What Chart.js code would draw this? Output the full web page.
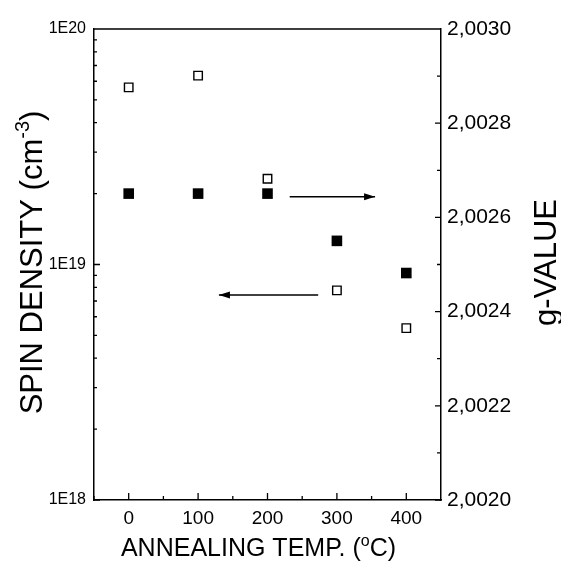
<!DOCTYPE html>
<html>
<head>
<meta charset="utf-8">
<script src="https://cdn.jsdelivr.net/npm/chart.js@4/dist/chart.umd.min.js"></script>
<style>
  html, body { margin: 0; padding: 0; background: #fff; }
  #wrap { width: 561px; height: 565px; }
</style>
</head>
<body>
<div id="wrap"><canvas id="chart"></canvas></div>
<script>
// annealing temperature (°C)
const temps = [0, 100, 200, 300, 400];
// spin density, cm^-3 (filled squares, left axis)
const spinDensity = [2.0e19, 2.0e19, 2.0e19, 1.26e19, 9.2e18];
// g-value (open squares, right axis)
const gValue = [2.002876, 2.002901, 2.002682, 2.002445, 2.002365];

const xTicks = [0, 100, 200, 300, 400];
const xMinor = [-50, 50, 150, 250, 350];
const leftTicks = [1e18, 1e19, 1e20];
const rightTicks = [2.0020, 2.0022, 2.0024, 2.0026, 2.0028, 2.0030];
const rightMinor = [2.0021, 2.0023, 2.0025, 2.0027, 2.0029];

// arrows: [x start, x end] at a spin-density level
const arrowToRight = { x: [232, 355], y: 1.94e19 };
const arrowToLeft = { x: [273, 130], y: 7.42e18 };

const FONT = "'Liberation Sans', Arial, sans-serif";

let leftMinor = [];
[1e18, 1e19].forEach((dec) => {
  for (let m = 2; m <= 9; m++) leftMinor.push(m * dec);
});

const tickPlugin = {
  id: "insideTicks",
  afterDraw(chart) {
    const { ctx, chartArea: a, scales } = chart;
    ctx.save();
    ctx.strokeStyle = "#000";
    ctx.lineWidth = 1.3;
    ctx.beginPath();
    // top frame line
    ctx.moveTo(a.left, a.top);
    ctx.lineTo(a.right, a.top);
    xTicks.forEach((v) => {
      let px = scales.x.getPixelForValue(v);
      ctx.moveTo(px, a.bottom);
      ctx.lineTo(px, a.bottom - 7);
    });
    xMinor.forEach((v) => {
      let px = scales.x.getPixelForValue(v);
      ctx.moveTo(px, a.bottom);
      ctx.lineTo(px, a.bottom - 4);
    });
    leftTicks.forEach((v) => {
      let py = scales.y.getPixelForValue(v);
      ctx.moveTo(a.left, py);
      ctx.lineTo(a.left + 6, py);
    });
    leftMinor.forEach((v) => {
      let py = scales.y.getPixelForValue(v);
      ctx.moveTo(a.left, py);
      ctx.lineTo(a.left + 3, py);
    });
    rightTicks.forEach((v) => {
      let py = scales.y1.getPixelForValue(v);
      ctx.moveTo(a.right, py);
      ctx.lineTo(a.right - 6, py);
    });
    rightMinor.forEach((v) => {
      let py = scales.y1.getPixelForValue(v);
      ctx.moveTo(a.right, py);
      ctx.lineTo(a.right - 4, py);
    });
    ctx.stroke();

    // arrowheads
    [arrowToRight, arrowToLeft].forEach((arr) => {
      let x0 = scales.x.getPixelForValue(arr.x[0]);
      let x1 = scales.x.getPixelForValue(arr.x[1]);
      let py = scales.y.getPixelForValue(arr.y);
      let dir = Math.sign(x1 - x0);
      ctx.fillStyle = "#000";
      ctx.beginPath();
      ctx.moveTo(x1, py);
      ctx.lineTo(x1 - dir * 11, py - 3.5);
      ctx.lineTo(x1 - dir * 11, py + 3.5);
      ctx.closePath();
      ctx.fill();
    });

    // axis titles
    ctx.fillStyle = "#000";
    ctx.textBaseline = "alphabetic";
    const midY = (a.top + a.bottom) / 2;

    // left title, rotated
    ctx.save();
    ctx.translate(42, midY - 2);
    ctx.rotate(-Math.PI / 2);
    let big = "31px " + FONT;
    let small = "20px " + FONT;
    ctx.font = big;
    let p1 = "SPIN DENSITY (cm";
    let w1 = ctx.measureText(p1).width;
    let w3 = ctx.measureText(")").width;
    ctx.font = small;
    let w2 = ctx.measureText("-3").width;
    let total = w1 + w2 + w3;
    let sx = -total / 2;
    ctx.font = big;
    ctx.textAlign = "left";
    ctx.fillText(p1, sx, 0);
    ctx.font = small;
    ctx.fillText("-3", sx + w1, -13);
    ctx.font = big;
    ctx.fillText(")", sx + w1 + w2, 0);
    ctx.restore();

    // right title, rotated
    ctx.save();
    ctx.translate(556, midY - 2);
    ctx.rotate(-Math.PI / 2);
    ctx.font = "31px " + FONT;
    ctx.textAlign = "center";
    ctx.fillText("g-VALUE", 0, 0);
    ctx.restore();

    // bottom title
    ctx.save();
    let bBig = "25px " + FONT;
    let bSmall = "16px " + FONT;
    ctx.font = bBig;
    let b1 = "ANNEALING TEMP. (";
    let bw1 = ctx.measureText(b1).width;
    let bw3 = ctx.measureText("C)").width;
    ctx.font = bSmall;
    let bw2 = ctx.measureText("o").width;
    let bx = (a.left + a.right) / 2 - 9 - (bw1 + bw2 + bw3) / 2;
    let by = 556;
    ctx.textAlign = "left";
    ctx.font = bBig;
    ctx.fillText(b1, bx, by);
    ctx.font = bSmall;
    ctx.fillText("o", bx + bw1, by - 10);
    ctx.font = bBig;
    ctx.fillText("C)", bx + bw1 + bw2, by);
    ctx.restore();

    ctx.restore();
  },
};

const ctx = document.getElementById("chart").getContext("2d");

new Chart(ctx, {
  type: "scatter",
  data: {
    datasets: [
      {
        label: "Spin density",
        data: temps.map((t, i) => ({ x: t, y: spinDensity[i] })),
        yAxisID: "y",
        pointStyle: "rect",
        pointRadius: 7.5,
        backgroundColor: "#000",
        borderWidth: 0,
      },
      {
        label: "g-value",
        data: temps.map((t, i) => ({ x: t, y: gValue[i] })),
        yAxisID: "y1",
        pointStyle: "rect",
        pointRadius: 6,
        backgroundColor: "#fff",
        borderColor: "#000",
        borderWidth: 1.4,
      },
      {
        label: "arrow right",
        data: arrowToRight.x.map((x) => ({ x, y: arrowToRight.y })),
        yAxisID: "y",
        showLine: true,
        pointRadius: 0,
        borderColor: "#000",
        borderWidth: 1.5,
      },
      {
        label: "arrow left",
        data: arrowToLeft.x.map((x) => ({ x, y: arrowToLeft.y })),
        yAxisID: "y",
        showLine: true,
        pointRadius: 0,
        borderColor: "#000",
        borderWidth: 1.5,
      },
    ],
  },
  options: {
    responsive: true,
    maintainAspectRatio: false,
    animation: false,
    layout: { padding: { top: 29, left: 0, right: 0, bottom: 0 } },
    plugins: { legend: { display: false }, tooltip: { enabled: false } },
    scales: {
      x: {
        type: "linear",
        min: -50,
        max: 450,
        afterBuildTicks: (s) => { s.ticks = xTicks.map((v) => ({ value: v })); },
        afterFit: (s) => { s.height = 65; },
        grid: { display: false, drawTicks: false },
        border: { display: true, color: "#000", width: 1.5 },
        ticks: { color: "#000", padding: 7, maxRotation: 0, font: { family: FONT, size: 19 } },
      },
      y: {
        type: "logarithmic",
        position: "left",
        min: 1e18,
        max: 1e20,
        afterBuildTicks: (s) => { s.ticks = leftTicks.map((v) => ({ value: v })); },
        afterFit: (s) => { s.width = 94; },
        grid: { display: false, drawTicks: false },
        border: { display: true, color: "#000", width: 1.5 },
        ticks: {
          color: "#000",
          padding: 8,
          font: { family: FONT, size: 16 },
          callback: (v) => "1E" + Math.round(Math.log10(v)),
        },
      },
      y1: {
        type: "linear",
        position: "right",
        min: 2.0020,
        max: 2.0030,
        afterBuildTicks: (s) => { s.ticks = rightTicks.map((v) => ({ value: v })); },
        afterFit: (s) => { s.width = 120; },
        grid: { display: false, drawTicks: false },
        border: { display: true, color: "#000", width: 1.5 },
        ticks: {
          color: "#000",
          padding: 6,
          font: { family: FONT, size: 21 },
          callback: (v) => v.toFixed(4).replace(".", ","),
        },
      },
    },
  },
  plugins: [tickPlugin],
});
</script>
</body>
</html>
